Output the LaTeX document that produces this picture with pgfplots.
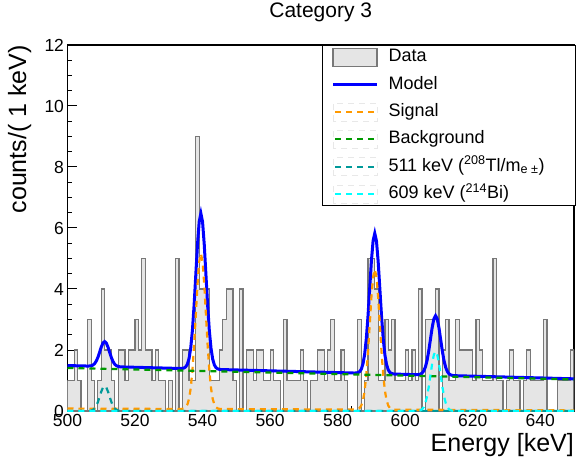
\documentclass[border=0pt]{standalone}
\usepackage{pgfplots}
\usepackage{pgfplotstable}
\pgfplotsset{compat=1.18}
\usepackage{fontspec}
\setmainfont{Liberation Sans}
\definecolor{histfill}{RGB}{229,229,229}
\definecolor{histline}{RGB}{120,120,120}
\definecolor{rootorange}{RGB}{255,153,0}
\definecolor{rootgreen}{RGB}{0,153,0}
\definecolor{rootteal}{RGB}{0,153,153}
\definecolor{rootcyan}{RGB}{0,255,255}
\definecolor{legframe}{RGB}{232,232,232}

\pgfplotstableread{
E n
500 1
501 1
502 2
503 1
504 0
505 0
506 3
507 1
508 0
509 1
510 4
511 2
512 2
513 1
514 0
515 2
516 2
517 1
518 2
519 2
520 3
521 2
522 5
523 2
524 2
525 1
526 2
527 1
528 1
529 0
530 1
531 0
532 5
533 0
534 2
535 2
536 1
537 1
538 9
539 4
540 4
541 4
542 1
543 1
544 1
545 2
546 3
547 4
548 4
549 1
550 0
551 4
552 0
553 2
554 2
555 1
556 2
557 2
558 1
559 1
560 2
561 1
562 1
563 0
564 3
565 1
566 1
567 1
568 1
569 2
570 1
571 0
572 1
573 1
574 2
575 2
576 1
577 2
578 3
579 1
580 1
581 2
582 1
583 0
584 0
585 0
586 3
587 0
588 1
589 5
590 5
591 4
592 1
593 1
594 3
595 2
596 3
597 1
598 1
599 1
600 2
601 1
602 2
603 1
604 4
605 0
606 3
607 3
608 3
609 4
610 0
611 2
612 3
613 1
614 1
615 3
616 2
617 2
618 2
619 2
620 1
621 3
622 2
623 1
624 1
625 1
626 5
627 1
628 1
629 0
630 1
631 2
632 1
633 1
634 0
635 1
636 2
637 1
638 1
639 1
640 1
641 3
642 0
643 0
644 0
645 1
646 1
647 1
648 1
649 2
650 2
}\histdata

\begin{document}
\begin{tikzpicture}
\begin{axis}[
  scale only axis, width=506.5bp, height=366bp,
  xmin=500, xmax=650, ymin=0, ymax=12,
  axis line style={line width=1.1bp},
  tick align=inside, tick pos=left,
  xtick={500,520,...,640}, ytick={0,2,...,12},
  minor x tick num=4, minor y tick num=3,
  major tick length=10bp, minor tick length=5bp,
  every tick/.style={black, line width=1bp},
  tick label style={font=\fontsize{17.5bp}{20bp}\selectfont},
  /pgf/number format/assume math mode=true,
  xticklabel style={inner sep=3.5bp},
  xlabel={Energy [keV]}, ylabel={counts/( 1 keV)},
  label style={font=\fontsize{25bp}{28bp}\selectfont},
  xlabel style={at={(axis description cs:1,-0.110)}, anchor=base east, inner sep=0pt},
  ylabel style={at={(axis description cs:-0.0947,1)}, anchor=east, inner sep=0pt},
  title={Category 3},
  title style={font=\fontsize{21bp}{24bp}\selectfont, at={(axis description cs:0.5,1.0601)}, anchor=base, inner sep=0pt},
  legend style={at={(axis description cs:0.5025,1)}, anchor=north west,
    draw=black, line width=1bp, fill=white,
    font=\fontsize{18bp}{20bp}\selectfont,
    inner xsep=9bp, inner ysep=1.5bp, row sep=6.3bp,
    nodes={inner sep=2bp, text height=13bp, text depth=4bp}},
  legend cell align=left,
]
\coordinate (A) at (rel axis cs:0,0);
\coordinate (B) at (rel axis cs:1,1);

\addplot[const plot, fill=histfill, draw=histline, line width=1.2bp,
  legend image code/.code={\draw[fill=histfill, draw=histline, line width=1.2bp] (0bp,-9bp) rectangle (44bp,9bp); \path (52bp,0bp);}]
  table[x=E,y=n]{\histdata} \closedcycle;
\addlegendentry{\makebox[176bp][l]{Data}}

\addplot[blue, line width=3bp,
  legend image code/.code={\draw[blue, line width=3bp] (0bp,0bp) -- (44bp,0bp); \path (52bp,0bp);}]
  coordinates {(500,1.490) (506,1.474) (506.5,1.476) (507,1.484) (507.5,1.504) (508,1.549) (508.5,1.632) (509,1.759) (509.5,1.924) (510,2.096) (510.5,2.229) (511,2.278) (511.5,2.226) (512,2.091) (512.5,1.916) (513,1.748) (513.5,1.617) (514,1.532) (514.5,1.484) (515,1.460) (515.5,1.450) (516,1.445)
  (533.5,1.394) (534,1.397) (534.5,1.410) (535,1.446) (535.5,1.533) (536,1.721) (536.5,2.074) (537,2.655) (537.5,3.478) (538,4.473) (538.5,5.462) (539,6.201) (539.5,6.476) (540,6.198) (540.5,5.457) (541,4.464) (541.5,3.467) (542,2.640) (542.5,2.057) (543,1.700) (543.5,1.510) (544,1.419) (544.5,1.381) (545,1.366) (545.5,1.359)
  (585,1.245) (585.5,1.248) (586,1.259) (586.5,1.290) (587,1.370) (587.5,1.538) (588,1.857) (588.5,2.380) (589,3.123) (589.5,4.021) (590,4.912) (590.5,5.579) (591,5.826) (591.5,5.576) (592,4.906) (592.5,4.012) (593,3.111) (593.5,2.366) (594,1.839) (594.5,1.518) (595,1.347) (595.5,1.264) (596,1.230) (596.5,1.216) (597,1.210)
  (603,1.192) (603.5,1.192) (604,1.196) (604.5,1.209) (605,1.242) (605.5,1.312) (606,1.447) (606.5,1.667) (607,1.982) (607.5,2.361) (608,2.738) (608.5,3.020) (609,3.124) (609.5,3.018) (610,2.732) (610.5,2.353) (611,1.970) (611.5,1.653) (612,1.429) (612.5,1.292) (613,1.218) (613.5,1.183) (614,1.167) (614.5,1.160) (615,1.157) (650,1.055)};
\addlegendentry{Model}

\addplot[rootorange, line width=2.2bp, dash pattern=on 6bp off 5bp,
  legend image code/.code={\draw[legframe, line width=0.6bp] (0bp,-9bp) rectangle (44bp,9bp); \draw[rootorange, line width=2.2bp, dash pattern=on 6bp off 5bp] (2bp,0bp) -- (42bp,0bp); \path (52bp,0bp);}]
  coordinates {(500,0.080) (533.5,0.067) (534,0.072) (534.5,0.086) (535,0.123) (535.5,0.211) (536,0.400) (536.5,0.755) (537,1.337) (537.5,2.162) (538,3.158) (538.5,4.149) (539,4.888) (539.5,5.164) (540,4.888) (540.5,4.148) (541,3.157) (541.5,2.161) (542,1.336) (542.5,0.754) (543,0.399) (543.5,0.210) (544,0.122) (544.5,0.084) (545,0.070) (545.5,0.064)
  (585,0.047) (585.5,0.051) (586,0.064) (586.5,0.096) (587,0.177) (587.5,0.347) (588,0.667) (588.5,1.192) (589,1.935) (589.5,2.834) (590,3.727) (590.5,4.395) (591,4.644) (591.5,4.395) (592,3.727) (592.5,2.834) (593,1.935) (593.5,1.191) (594,0.666) (594.5,0.346) (595,0.176) (595.5,0.094) (596,0.062) (596.5,0.049) (597,0.044) (650,0.020)};
\addlegendentry{Signal}

\addplot[rootgreen, line width=2.2bp, dash pattern=on 6bp off 5bp,
  legend image code/.code={\draw[legframe, line width=0.6bp] (0bp,-9bp) rectangle (44bp,9bp); \draw[rootgreen, line width=2.2bp, dash pattern=on 6bp off 5bp] (2bp,0bp) -- (42bp,0bp); \path (52bp,0bp);}]
  coordinates {(500,1.41) (650,1.035)};
\addlegendentry{Background}

\addplot[rootteal, line width=2.2bp, dash pattern=on 6bp off 5bp,
  legend image code/.code={\draw[legframe, line width=0.6bp] (0bp,-9bp) rectangle (44bp,9bp); \draw[rootteal, line width=2.2bp, dash pattern=on 6bp off 5bp] (2bp,0bp) -- (42bp,0bp); \path (52bp,0bp);}]
  coordinates {(500,0) (505.5,0) (506,0.0014) (506.5,0.0047) (507,0.0139) (507.5,0.0360) (508,0.0826) (508.5,0.1665) (509,0.2955) (509.5,0.4619) (510,0.6353) (510.5,0.7693) (511,0.82) (511.5,0.7693) (512,0.6353) (512.5,0.4619) (513,0.2955) (513.5,0.1665) (514,0.0826) (514.5,0.0360) (515,0.0139) (515.5,0.0047) (516,0.0014) (516.5,0) (650,0)};
\addlegendentry{511 keV (\textsuperscript{208}Tl/m\textsubscript{e ±})}

\addplot[rootcyan, line width=2.2bp, dash pattern=on 6bp off 5bp,
  legend image code/.code={\draw[legframe, line width=0.6bp] (0bp,-9bp) rectangle (44bp,9bp); \draw[rootcyan, line width=2.2bp, dash pattern=on 6bp off 5bp] (2bp,0bp) -- (42bp,0bp); \path (52bp,0bp);}]
  coordinates {(500,0) (602.5,0) (603,0.0006) (603.5,0.0023) (604,0.0075) (604.5,0.022) (605,0.056) (605.5,0.128) (606,0.264) (606.5,0.486) (607,0.802) (607.5,1.183) (608,1.561) (608.5,1.845) (609,1.95) (609.5,1.845) (610,1.561) (610.5,1.183) (611,0.802) (611.5,0.486) (612,0.264) (612.5,0.128) (613,0.056) (613.5,0.022) (614,0.0075) (614.5,0.0023) (615,0.0006) (615.5,0) (650,0)};
\addlegendentry{609 keV (\textsuperscript{214}Bi)}
\end{axis}
\pgfresetboundingbox
\path ([shift={(-67.5bp,-51bp)}]A) rectangle ([shift={(2bp,45bp)}]B);
\end{tikzpicture}
\end{document}
